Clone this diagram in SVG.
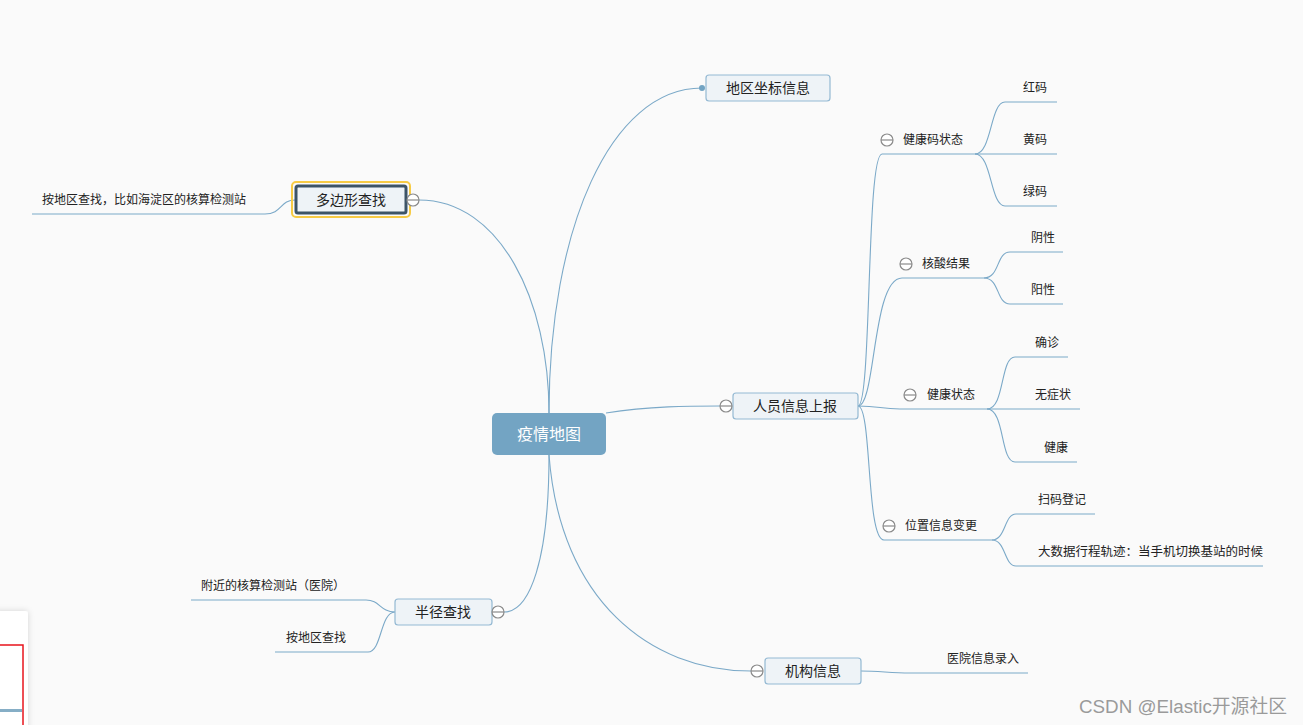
<svg xmlns="http://www.w3.org/2000/svg" width="1303" height="725" viewBox="0 0 1303 725">
<defs>
<style>
.bg{fill:#fafafa}
.ln{fill:none;stroke:#7ba9c8;stroke-width:1.1}
.nd{fill:#eef3f7;stroke:#94b9d3;stroke-width:1.2}
.t14{font-family:"Liberation Sans","Noto Sans CJK SC",sans-serif;font-size:14px;fill:#222;text-anchor:middle;dominant-baseline:central}
.t12{font-family:"Liberation Sans","Noto Sans CJK SC",sans-serif;font-size:12px;fill:#222;dominant-baseline:central}
.col circle{fill:#fff;stroke:#8a8a8a;stroke-width:1.2}
.col line{stroke:#8a8a8a;stroke-width:1.2}
</style>
<filter id="sh" x="-50%" y="-20%" width="200%" height="140%"><feDropShadow dx="0" dy="0" stdDeviation="3" flood-color="#000" flood-opacity="0.15"/></filter>
</defs>
<rect class="bg" x="0" y="0" width="1303" height="725"/>

<g id="connectors">
<path class="ln" d="M549,413 C549,230 610,88 702,88"/>
<path class="ln" d="M549,413 C549,300 500,200 419,200"/>
<path class="ln" d="M606,413 C650,406 690,406 720,406"/>
<path class="ln" d="M549,455 C549,560 530,612 504,612"/>
<path class="ln" d="M549,455 C560,600 650,671 751,671"/>
<path class="ln" d="M295,200 C280,200 282,214 265,214 L32,214"/>
<path class="ln" d="M395,612 C380,612 380,600 366,600 L191,600"/>
<path class="ln" d="M395,612 C380,612 382,652 368,652 L275,652"/>
<path class="ln" d="M861,671 C880,671 890,673 910,673 L1028,673"/>
<path class="ln" d="M858,406 C872,406 866,154 882,154 L975,154"/>
<path class="ln" d="M858,406 C876,406 872,278 902,278 L984,278"/>
<path class="ln" d="M858,406 C880,406 880,409 900,409 L987,409"/>
<path class="ln" d="M858,406 C872,406 866,540 884,540 L992,540"/>
<path class="ln" d="M975,154 C992,154 990,102 1005,102 L1057,102"/>
<path class="ln" d="M975,154 L1057,154"/>
<path class="ln" d="M975,154 C992,154 990,206 1005,206 L1057,206"/>
<path class="ln" d="M984,278 C1000,278 996,252 1010,252 L1063,252"/>
<path class="ln" d="M984,278 C1000,278 996,304 1010,304 L1063,304"/>
<path class="ln" d="M987,409 C1005,409 1000,357 1015,357 L1068,357"/>
<path class="ln" d="M987,409 L1080,409"/>
<path class="ln" d="M987,409 C1005,409 1000,462 1015,462 L1077,462"/>
<path class="ln" d="M992,540 C1006,540 1004,514 1016,514 L1095,514"/>
<path class="ln" d="M992,540 C1006,540 1004,566 1016,566 L1263,566"/>
<circle cx="702" cy="88" r="3" fill="#73a4c3"/>
</g>

<g id="center">
<rect x="492" y="413" width="114" height="42" rx="5" fill="#73a4c3"/>
<text x="549" y="434" class="t14" style="font-size:16px;fill:#fff">疫情地图</text>
</g>

<g id="n-diqu">
<rect class="nd" x="706" y="75" width="124" height="26" rx="3"/>
<text x="768" y="88" class="t14">地区坐标信息</text>
</g>

<g id="n-duobianxing">
<rect x="292" y="182" width="118" height="35" rx="4" fill="none" stroke="#f7cb45" stroke-width="2"/>
<rect x="296" y="186" width="110" height="27" rx="2" fill="#eef3f7" stroke="#3d5467" stroke-width="3"/>
<text x="351" y="200" class="t14">多边形查找</text>
<g class="col"><circle cx="413" cy="200" r="6"/><line x1="407" y1="200" x2="419" y2="200"/></g>
</g>
<g id="n-duobianxing-c1"><text x="42" y="200" class="t12">按地区查找，比如海淀区的核算检测站</text></g>

<g id="n-renyuan">
<rect class="nd" x="733" y="393" width="125" height="26" rx="3"/>
<text x="795" y="406" class="t14">人员信息上报</text>
<g class="col"><circle cx="726" cy="406" r="6"/><line x1="720" y1="406" x2="732" y2="406"/></g>
</g>

<g id="n-jkm">
<g class="col"><circle cx="887" cy="140" r="6"/><line x1="881" y1="140" x2="893" y2="140"/></g>
<text x="903" y="140" class="t12">健康码状态</text>
</g>
<g id="n-hongma"><text x="1023" y="88" class="t12">红码</text></g>
<g id="n-huangma"><text x="1023" y="140" class="t12">黄码</text></g>
<g id="n-lvma"><text x="1023" y="192" class="t12">绿码</text></g>

<g id="n-hesuan">
<g class="col"><circle cx="906" cy="264" r="6"/><line x1="900" y1="264" x2="912" y2="264"/></g>
<text x="922" y="264" class="t12">核酸结果</text>
</g>
<g id="n-yinxing"><text x="1031" y="238" class="t12">阴性</text></g>
<g id="n-yangxing"><text x="1031" y="290" class="t12">阳性</text></g>

<g id="n-jkzt">
<g class="col"><circle cx="910" cy="395" r="6"/><line x1="904" y1="395" x2="916" y2="395"/></g>
<text x="927" y="395" class="t12">健康状态</text>
</g>
<g id="n-quezhen"><text x="1035" y="343" class="t12">确诊</text></g>
<g id="n-wuzheng"><text x="1035" y="395" class="t12">无症状</text></g>
<g id="n-jiankang"><text x="1044" y="448" class="t12">健康</text></g>

<g id="n-weizhi">
<g class="col"><circle cx="889" cy="526" r="6"/><line x1="883" y1="526" x2="895" y2="526"/></g>
<text x="905" y="526" class="t12">位置信息变更</text>
</g>
<g id="n-saoma"><text x="1038" y="500" class="t12">扫码登记</text></g>
<g id="n-dashuju"><text x="1038" y="552" class="t12" style="font-size:12.5px">大数据行程轨迹：当手机切换基站的时候</text></g>

<g id="n-banjing">
<rect class="nd" x="395" y="599" width="97" height="26" rx="3"/>
<text x="443" y="612" class="t14">半径查找</text>
<g class="col"><circle cx="498" cy="612" r="6"/><line x1="492" y1="612" x2="504" y2="612"/></g>
</g>
<g id="n-fujin"><text x="201" y="586" class="t12">附近的核算检测站（医院）</text></g>
<g id="n-anqu"><text x="286" y="638" class="t12">按地区查找</text></g>

<g id="n-jigou">
<rect class="nd" x="765" y="658" width="96" height="26" rx="3"/>
<text x="813" y="671" class="t14">机构信息</text>
<g class="col"><circle cx="757" cy="671" r="6"/><line x1="751" y1="671" x2="763" y2="671"/></g>
</g>
<g id="n-yiyuan"><text x="947" y="659" class="t12">医院信息录入</text></g>

<g id="panel">
<rect x="-6" y="611" width="34" height="130" rx="3" fill="#fff" filter="url(#sh)"/>
<rect x="-2" y="645" width="25" height="90" fill="none" stroke="#e8141c" stroke-width="1.5"/>
<rect x="0" y="709" width="22" height="3" fill="#86aec6"/>
</g>

<text x="1079" y="713" style="font-family:'Liberation Sans','Noto Sans CJK SC',sans-serif;font-size:18.8px;fill:#9a9a9a">CSDN @Elastic开源社区</text>
</svg>
